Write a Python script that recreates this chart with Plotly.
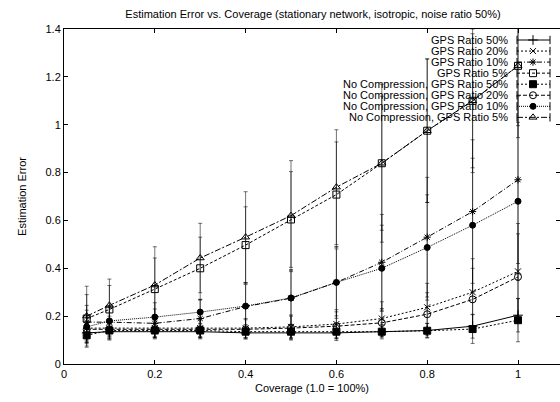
import plotly.graph_objects as go

coverage = [0.05, 0.1, 0.2, 0.3, 0.4, 0.5, 0.6, 0.7, 0.8, 0.9, 1.0]

gps50 = [0.13, 0.135, 0.135, 0.135, 0.13, 0.13, 0.13, 0.135, 0.14, 0.158, 0.204]
gps50_err = [0.04, 0.03, 0.02, 0.02, 0.02, 0.02, 0.02, 0.02, 0.03, 0.05, 0.07]
gps20 = [0.15, 0.15, 0.15, 0.15, 0.15, 0.155, 0.167, 0.19, 0.237, 0.30, 0.387]
gps20_err = [0.05, 0.05, 0.04, 0.04, 0.04, 0.05, 0.06, 0.07, 0.1, 0.14, 0.2]
gps10 = [0.175, 0.175, 0.17, 0.19, 0.24, 0.275, 0.341, 0.425, 0.53, 0.637, 0.77]
gps10_err = [0.07, 0.06, 0.06, 0.08, 0.1, 0.12, 0.15, 0.2, 0.25, 0.3, 0.35]
gps5 = [0.19, 0.228, 0.313, 0.40, 0.497, 0.604, 0.708, 0.839, 0.975, 1.10, 1.246]
gps5_err = [0.1, 0.1, 0.13, 0.13, 0.16, 0.2, 0.22, 0.28, 0.3, 0.3, 0.3]
nc50 = [0.12, 0.14, 0.14, 0.14, 0.135, 0.135, 0.135, 0.135, 0.139, 0.146, 0.183]
nc50_err = [0.05, 0.03, 0.03, 0.03, 0.03, 0.03, 0.03, 0.03, 0.03, 0.06, 0.09]
nc20 = [0.145, 0.145, 0.145, 0.145, 0.145, 0.15, 0.158, 0.172, 0.208, 0.27, 0.364]
nc20_err = [0.05, 0.04, 0.04, 0.04, 0.04, 0.05, 0.06, 0.06, 0.09, 0.13, 0.18]
nc10 = [0.155, 0.18, 0.196, 0.217, 0.242, 0.276, 0.341, 0.40, 0.487, 0.58, 0.68]
nc10_err = [0.07, 0.06, 0.06, 0.05, 0.09, 0.11, 0.14, 0.18, 0.22, 0.28, 0.33]
nc5 = [0.2, 0.245, 0.33, 0.443, 0.53, 0.62, 0.739, 0.839, 0.975, 1.10, 1.246]
nc5_err = [0.125, 0.11, 0.16, 0.145, 0.19, 0.23, 0.24, 0.33, 0.3, 0.28, 0.25]

series_names = [
    "GPS Ratio 50%", "GPS Ratio 20%", "GPS Ratio 10%", "GPS Ratio 5%",
    "No Compression, GPS Ratio 50%", "No Compression, GPS Ratio 20%",
    "No Compression, GPS Ratio 10%", "No Compression, GPS Ratio 5%",
]
series_values = [gps50, gps20, gps10, gps5, nc50, nc20, nc10, nc5]
series_errors = [gps50_err, gps20_err, gps10_err, gps5_err, nc50_err, nc20_err, nc10_err, nc5_err]

styles = [
    dict(dash="solid", symbol="cross-thin-open", size=7),
    dict(dash="2px,2px", symbol="x-thin-open", size=6),
    dict(dash="5px,2px,1px,2px", symbol="asterisk-open", size=6),
    dict(dash="3px,2px", symbol="square-open", size=7),
    dict(dash="2px,2px", symbol="square", size=7),
    dict(dash="4px,2px", symbol="circle-open", size=7),
    dict(dash="1px,1px", symbol="circle", size=6),
    dict(dash="6px,2px,2px,2px", symbol="triangle-up-open", size=7),
]

FONT = "Liberation Sans, Arial, Helvetica, sans-serif"

fig = go.Figure()
for name, vals, errs, st in zip(series_names, series_values, series_errors, styles):
    fig.add_trace(go.Scatter(
        x=coverage, y=vals, name=name, mode="lines+markers",
        line=dict(color="black", width=1, dash=st["dash"]),
        marker=dict(symbol=st["symbol"], size=st["size"], color="black",
                    line=dict(color="black", width=1)),
        error_y=dict(type="data", array=errs, visible=True,
                     color="rgba(0,0,0,0.55)", thickness=1, width=2),
        showlegend=False,
    ))

# Custom gnuplot-style legend (text right-aligned, sample on the right)
plot_l, plot_w, plot_t, plot_b = 64, 496, 29, 364
plot_h = plot_b - plot_t
def px(xp):
    return (xp - plot_l) / plot_w
def py(yp):
    return (plot_b - yp) / plot_h

row_px = [40 + 11.05 * i for i in range(len(series_names))]
for name, st, rp in zip(series_names, styles, row_px):
    yy = py(rp)
    fig.add_annotation(x=px(510), y=yy, xref="paper", yref="paper", text=name,
                       showarrow=False, xanchor="right", yanchor="middle",
                       font=dict(family=FONT, size=11, color="black"))
    fig.add_trace(go.Scatter(
        x=[px(517), px(550)], y=[yy, yy], xaxis="x2", yaxis="y2",
        mode="lines+markers",
        line=dict(color="black", width=1, dash=st["dash"]),
        marker=dict(symbol="line-ns-open", size=6, color="black",
                    line=dict(color="black", width=1)),
        showlegend=False, hoverinfo="skip"))
    fig.add_trace(go.Scatter(
        x=[px(533)], y=[yy], xaxis="x2", yaxis="y2", mode="markers",
        marker=dict(symbol=st["symbol"], size=st["size"], color="black",
                    line=dict(color="black", width=1)),
        showlegend=False, hoverinfo="skip"))

fig.update_layout(
    width=560, height=402,
    margin=dict(l=plot_l, r=0, t=plot_t, b=402 - plot_b),
    paper_bgcolor="white", plot_bgcolor="white",
    font=dict(family=FONT, size=11, color="black"),
    title=dict(text="Estimation Error vs. Coverage (stationary network, isotropic, noise ratio 50%)",
               x=313 / 560, xanchor="center", y=1 - 14 / 402, yanchor="middle",
               font=dict(family=FONT, size=11, color="black")),
    xaxis=dict(range=[0, 1.0925], tickvals=[0, 0.2, 0.4, 0.6, 0.8, 1],
               ticktext=["0", "0.2", "0.4", "0.6", "0.8", "1"],
               ticks="inside", ticklen=4, tickcolor="black", mirror="ticks",
               showline=True, linecolor="black", linewidth=1, showgrid=False,
               zeroline=False,
               title=dict(text="Coverage (1.0 = 100%)", standoff=5,
                          font=dict(family=FONT, size=11, color="black")),
               tickfont=dict(size=11)),
    yaxis=dict(range=[0, 1.4], tickvals=[0, 0.2, 0.4, 0.6, 0.8, 1, 1.2, 1.4],
               ticktext=["0", "0.2", "0.4", "0.6", "0.8", "1", "1.2", "1.4"],
               ticks="inside", ticklen=4, tickcolor="black", mirror="ticks",
               showline=True, linecolor="black", linewidth=1, showgrid=False,
               zeroline=False,
               title=dict(text="Estimation Error", standoff=16,
                          font=dict(family=FONT, size=11, color="black")),
               tickfont=dict(size=11)),
    xaxis2=dict(range=[0, 1], overlaying="x", visible=False, fixedrange=True),
    yaxis2=dict(range=[0, 1], overlaying="y", visible=False, fixedrange=True),
)

fig.write_html("out.html")
